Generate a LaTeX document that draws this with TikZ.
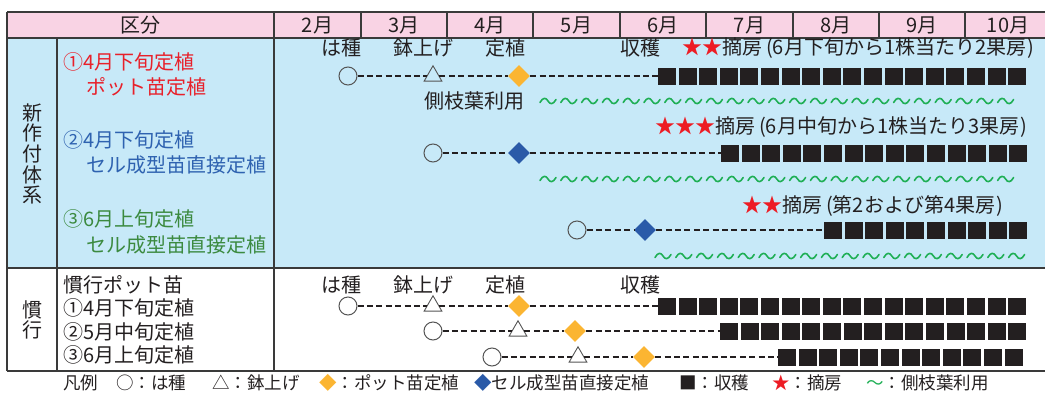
\documentclass[tikz,border=0pt]{standalone}
\usepackage{fontspec}
\setmainfont{Noto Sans CJK JP}
\usetikzlibrary{shapes.geometric}
\definecolor{hdr}{HTML}{F9D3E4}
\definecolor{bluebg}{HTML}{C7E9F8}
\definecolor{txt}{HTML}{231F20}
\definecolor{rtxt}{HTML}{E8202A}
\definecolor{btxt}{HTML}{2E62B0}
\definecolor{gtxt}{HTML}{3B8A3F}
\definecolor{wave}{HTML}{1FAF55}
\definecolor{orng}{HTML}{FBB532}
\definecolor{bdia}{HTML}{2A5AA8}
\definecolor{starred}{HTML}{ED1C24}
\definecolor{rulec}{HTML}{3A3A3A}
\definecolor{mark}{HTML}{555555}
\begin{document}
\begin{tikzpicture}[x=1pt,y=-1pt,
  lbl/.style={font=\fontsize{20}{22}\selectfont, text=txt, inner sep=0pt},
  lft/.style={lbl, anchor=west},
  leg/.style={font=\fontsize{17.5}{19}\selectfont, text=txt, inner sep=0pt, anchor=west},
  seed/.style={circle, draw=mark, line width=1pt, minimum size=18pt, inner sep=0pt},
  potup/.style={regular polygon, regular polygon sides=3, draw=mark, line width=0.9pt, minimum size=20.5pt, inner sep=0pt},
  dpot/.style={diamond, fill=orng, minimum width=22pt, minimum height=22pt, inner sep=0pt},
  dcell/.style={diamond, fill=bdia, minimum width=22pt, minimum height=22pt, inner sep=0pt},
  sq/.style={rectangle, fill=txt, minimum width=18pt, minimum height=17pt, inner sep=0pt},
  dashln/.style={draw=txt, line width=1.2pt, dash pattern=on 6pt off 3.4pt},
  border/.style={draw=rulec, line width=1.5pt},
  tld/.pic={\draw[wave, line width=1.6pt, line cap=round] (0,1.5) .. controls (3,-4) and (6,-3.5) .. (8,0) .. controls (10,3.5) and (13,4) .. (16,-1.5);}
]
\useasboundingbox (0,0) rectangle (1045,397);
% backgrounds
\fill[hdr] (7,12) rectangle (1045,38);
\fill[bluebg] (7,38) rectangle (1045,268);
% rules
\draw[border] (7,12) -- (1045,12);
\draw[border] (7,38) -- (1045,38);
\draw[border] (7,268) -- (1045,268);
\draw[border] (7,371) -- (1045,371);
\draw[border] (7,12) -- (7,371);
\draw[border] (57,38) -- (57,371);
\draw[border] (274,12) -- (274,371);
\foreach \x in {361,447,533,620,706,793,879,965} \draw[border] (\x,12) -- (\x,38);
% header
\node[lbl] (hd) at (140,25) {区分};
\foreach \m/\x in {2/317.5,3/404,4/490,5/576.5,6/663,7/749.5,8/836,9/922,10/1008}
  \node[lbl] (m\m) at (\x,25) {\m 月};
% side labels
\node[lbl, align=center, font=\fontsize{20}{20.6}\selectfont] (sideA) at (32,154) {新\\作\\付\\体\\系};
\node[lbl, align=center, font=\fontsize{20}{20.6}\selectfont] (sideB) at (32,320) {慣\\行};
% left labels
\node[lft, text=rtxt] (la1) at (63,62) {①4月下旬定植};
\node[lft, text=rtxt] (la1b) at (86,87) {ポット苗定植};
\node[lft, text=btxt] (la2) at (63,140) {②4月下旬定植};
\node[lft, text=btxt] (la2b) at (86,165) {セル成型苗直接定植};
\node[lft, text=gtxt] (la3) at (63,219) {③6月上旬定植};
\node[lft, text=gtxt] (la3b) at (86,245) {セル成型苗直接定植};
\node[lft] (lb0) at (63,285) {慣行ポット苗};
\node[lft] (lb1) at (63,308) {①4月下旬定植};
\node[lft] (lb2) at (63,332) {②5月中旬定植};
\node[lft] (lb3) at (63,355) {③6月上旬定植};
% timeline labels
\node[lbl] (ta1) at (341,48) {は種};
\node[lbl] (ta2) at (423,48) {鉢上げ};
\node[lbl] (ta3) at (505,48) {定植};
\node[lbl] (ta4) at (640,48) {収穫};
\node[lft] (st1) at (682,48) {{\color{starred}★★}摘房\kern4pt(6月下旬から1株当たり2果房\kern1pt)};
\node[lbl] (sk1) at (474,101) {側枝葉利用};
\node[lft] (st2) at (655,127) {{\color{starred}★★★}摘房\kern4pt(6月中旬から1株当たり3果房\kern1pt)};
\node[lft] (st3) at (742,206) {{\color{starred}★★}摘房\kern4pt(第2および第4果房\kern1pt)};
\node[lbl] (tb1) at (341,285) {は種};
\node[lbl] (tb2) at (423,285) {鉢上げ};
\node[lbl] (tb3) at (505,285) {定植};
\node[lbl] (tb4) at (640,285) {収穫};
% new row 1
\node[seed] (n1c) at (348,76) {};
\node[potup] (n1t) at (433,76) {};
\node[dpot] (n1d) at (519,76) {};
\foreach \k in {1,...,18} \node[sq] (n1s\k) at ({667+(\k-1)*20.6},76) {};
\draw[dashln] (n1c) -- (n1t) -- (n1d) -- (n1s1);
\foreach \k in {0,...,22} \pic at ({540+\k*20.8},101) {tld};
% new row 2
\node[seed] (n2c) at (433,153) {};
\node[dcell] (n2d) at (519,153) {};
\foreach \k in {1,...,15} \node[sq] (n2s\k) at ({730+(\k-1)*20.6},153) {};
\draw[dashln] (n2c) -- (n2d) -- (n2s1);
\foreach \k in {0,...,22} \pic at ({540+\k*20.8},179) {tld};
% new row 3
\node[seed] (n3c) at (577,230) {};
\node[dcell] (n3d) at (645,230) {};
\foreach \k in {1,...,10} \node[sq] (n3s\k) at ({833+(\k-1)*20.6},230) {};
\draw[dashln] (n3c) -- (n3d) -- (n3s1);
\foreach \k in {0,...,17} \pic at ({655+\k*20.8},256) {tld};
% old row 1
\node[seed] (o1c) at (348,306) {};
\node[potup] (o1t) at (433,306) {};
\node[dpot] (o1d) at (519,306) {};
\foreach \k in {1,...,18} \node[sq] (o1s\k) at ({667+(\k-1)*20.6},306) {};
\draw[dashln] (o1c) -- (o1t) -- (o1d) -- (o1s1);
% old row 2
\node[seed] (o2c) at (433,331) {};
\node[potup] (o2t) at (518,331) {};
\node[dpot] (o2d) at (575,331) {};
\foreach \k in {1,...,15} \node[sq] (o2s\k) at ({729+(\k-1)*20.6},331) {};
\draw[dashln] (o2c) -- (o2t) -- (o2d) -- (o2s1);
% old row 3
\node[seed] (o3c) at (492,357) {};
\node[potup] (o3t) at (578,357) {};
\node[dpot] (o3d) at (644,357) {};
\foreach \k in {1,...,12} \node[sq] (o3s\k) at ({787+(\k-1)*20.6},357) {};
\draw[dashln] (o3c) -- (o3t) -- (o3d) -- (o3s1);
% legend
\node[leg] (g0) at (63,383) {凡例};
\node[leg] (g1) at (116,383) {○：は種};
\node[leg] (g2) at (212,383) {△：鉢上げ};
\node[leg] (g3) at (319,383) {{\color{orng}◆}：ポット苗定植};
\node[leg] (g4) at (474,383) {{\color{bdia}◆}セル成型苗直接定植};
\node[leg] (g5) at (679,383) {■：収穫};
\node[leg] (g6) at (772,383) {{\color{starred}★}：摘房};
\node[leg] (g7) at (866,383) {{\color{wave}～}：側枝葉利用};
\end{tikzpicture}
\end{document}
